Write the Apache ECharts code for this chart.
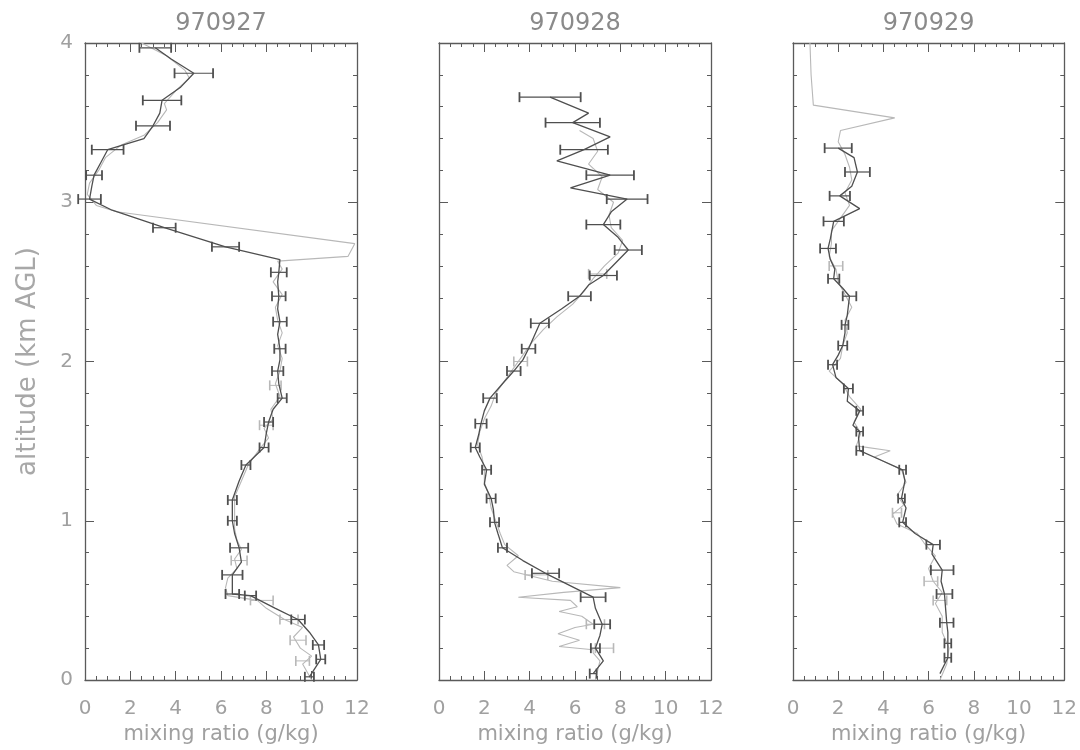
<!DOCTYPE html>
<html>
<head>
<meta charset="utf-8">
<script src="https://cdn.jsdelivr.net/npm/echarts@6/dist/echarts.min.js"></script>
<style>
html,body{margin:0;padding:0;background:#fff;}
#chart{width:1080px;height:750px;}
</style>
</head>
<body>
<div id="chart"></div>
<script>
// ---------- data ----------
const titles = ['970927', '970928', '970929'];
const xTicks = [0, 2, 4, 6, 8, 10, 12];
const yTicks = [0, 1, 2, 3, 4];

// Panel 1 (970927) - black profile with error bars
const alt1 = [0.02,0.13,0.22,0.30,0.38,0.45,0.53,0.54,0.66,0.74,0.83,0.92,1.00,1.13,1.25,1.35,1.46,1.55,1.62,1.70,1.77,1.86,1.94,2.01,2.08,2.17,2.25,2.33,2.41,2.50,2.56,2.64,2.72,2.84,2.95,3.02,3.10,3.17,3.25,3.33,3.40,3.48,3.56,3.64,3.72,3.81,3.90,3.97];
const val1 = [9.9,10.4,10.3,9.9,9.4,8.4,7.3,6.5,6.5,6.9,6.8,6.6,6.5,6.5,6.8,7.1,7.9,8.0,8.1,8.3,8.7,8.55,8.5,8.6,8.6,8.5,8.6,8.5,8.55,8.5,8.55,8.6,6.2,3.5,1.2,0.2,0.3,0.4,0.7,1.0,2.6,3.0,3.3,3.4,4.2,4.8,3.8,3.1];
const err1 = [0.2,0.2,0.25,0,0.3,0,0.25,0.3,0.45,0,0.4,0,0.2,0.2,0,0.2,0.2,0,0.2,0,0.2,0,0.25,0,0.25,0,0.3,0,0.3,0,0.35,0,0.6,0.5,0,0.5,0,0.35,0,0.7,0,0.75,0,0.85,0,0.85,0,0.7];
// Panel 1 grey profile
const galt1 = [0.00,0.05,0.10,0.15,0.20,0.27,0.33,0.38,0.45,0.50,0.53,0.58,0.64,0.70,0.76,0.82,0.88,0.95,1.05,1.15,1.25,1.35,1.45,1.52,1.58,1.64,1.70,1.78,1.86,1.94,2.02,2.10,2.18,2.26,2.34,2.42,2.50,2.58,2.63,2.66,2.74,2.94,2.98,3.05,3.12,3.20,3.28,3.36,3.42,3.50,3.58,3.62,3.70,3.78,3.83,3.92,4.00];
const gval1 = [10.0,9.8,9.6,10.0,9.5,9.2,9.6,8.8,8.0,7.6,6.3,6.2,6.3,6.7,6.6,6.9,6.7,6.6,6.6,6.6,6.9,7.2,7.7,8.1,7.9,8.3,8.2,8.6,8.4,8.6,8.7,8.5,8.7,8.5,8.4,8.7,8.3,8.7,8.5,11.6,11.9,1.4,0.5,0.1,0.2,0.6,0.9,1.6,2.6,3.2,3.6,3.5,4.0,4.6,4.4,3.6,2.5];
const gbAlt1 = [0.12,0.25,0.38,0.50,0.75,1.60,1.85];
const gbVal1 = [9.6,9.4,9.0,7.8,6.8,8.0,8.4];
const gbErr1 = [0.3,0.35,0.4,0.5,0.35,0.3,0.25];

// Panel 2 (970928)
const alt2 = [0.04,0.12,0.20,0.28,0.35,0.45,0.52,0.67,0.75,0.83,0.92,0.99,1.07,1.14,1.23,1.32,1.40,1.46,1.54,1.61,1.69,1.77,1.86,1.94,2.01,2.08,2.16,2.24,2.33,2.41,2.48,2.54,2.62,2.70,2.78,2.86,2.94,3.02,3.09,3.17,3.26,3.33,3.41,3.50,3.56,3.66];
const val2 = [6.8,7.25,6.9,7.1,7.2,6.9,6.8,4.7,3.7,2.8,2.6,2.45,2.4,2.3,2.0,2.1,1.8,1.6,1.75,1.85,2.0,2.25,2.8,3.3,3.7,3.95,4.2,4.45,5.4,6.2,6.6,7.25,7.8,8.35,7.9,7.25,7.6,8.3,5.8,7.55,5.2,6.4,7.55,5.9,6.6,4.9];
const err2 = [0.15,0,0.2,0,0.35,0,0.55,0.6,0,0.2,0,0.2,0,0.2,0,0.2,0,0.2,0,0.25,0,0.3,0,0.3,0,0.3,0,0.4,0,0.5,0,0.6,0,0.6,0,0.75,0,0.9,0,1.05,0,1.05,0,1.2,0,1.35];
const galt2 = [0.00,0.06,0.12,0.17,0.19,0.21,0.25,0.29,0.33,0.35,0.40,0.43,0.46,0.50,0.52,0.55,0.58,0.62,0.68,0.72,0.78,0.85,0.92,1.00,1.08,1.16,1.24,1.32,1.40,1.48,1.56,1.64,1.72,1.80,1.88,1.96,2.04,2.12,2.20,2.28,2.36,2.44,2.52,2.60,2.68,2.76,2.84,2.92,3.00,3.08,3.16,3.24,3.32,3.40,3.45];
const gval2 = [6.9,7.0,7.1,6.8,6.8,5.3,6.2,5.25,6.0,6.8,6.3,5.3,6.1,5.8,3.5,5.5,8.0,5.0,3.3,3.0,3.5,2.9,2.7,2.5,2.3,2.2,2.0,2.0,1.9,1.7,1.8,2.0,2.3,2.5,2.9,3.3,3.7,4.1,4.6,5.2,5.9,6.4,6.8,7.3,7.9,8.1,7.6,7.5,7.7,7.0,7.2,6.6,7.0,6.8,6.2];
const gbAlt2 = [0.20,0.35,0.66,2.00,2.55];
const gbVal2 = [7.3,6.9,4.3,3.6,7.0];
const gbErr2 = [0.4,0.4,0.5,0.3,0.4];

// Panel 3 (970929)
const alt3 = [0.04,0.14,0.23,0.30,0.36,0.45,0.54,0.62,0.69,0.79,0.85,0.92,0.99,1.08,1.14,1.25,1.32,1.38,1.44,1.52,1.56,1.60,1.69,1.75,1.83,1.90,1.98,2.04,2.10,2.18,2.23,2.29,2.41,2.46,2.52,2.58,2.64,2.71,2.77,2.88,2.96,3.04,3.10,3.19,3.28,3.34];
const val3 = [6.5,6.85,6.85,6.85,6.8,6.75,6.7,6.55,6.6,6.15,6.2,5.4,4.85,5.0,4.8,4.95,4.85,3.9,2.95,2.9,2.95,2.65,2.95,2.4,2.45,1.9,1.75,2.0,2.2,2.3,2.3,2.4,2.5,2.2,1.8,1.85,1.65,1.55,1.65,1.8,2.95,2.07,2.6,2.85,2.7,2.0];
const err3 = [0,0.15,0.15,0,0.3,0,0.35,0,0.5,0,0.3,0,0.15,0,0.15,0,0.15,0,0.15,0,0.15,0,0.15,0,0.2,0,0.2,0,0.2,0,0.15,0,0.3,0,0.25,0,0,0.35,0,0.45,0,0.45,0,0.55,0,0.6];
const galt3 = [0.00,0.10,0.20,0.30,0.40,0.48,0.55,0.62,0.70,0.78,0.86,0.92,0.98,1.04,1.10,1.16,1.24,1.32,1.40,1.44,1.47,1.55,1.62,1.70,1.78,1.86,1.94,2.02,2.10,2.18,2.26,2.34,2.42,2.50,2.58,2.66,2.74,2.82,2.90,2.98,3.06,3.14,3.22,3.30,3.38,3.45,3.53,3.61,3.80,4.00];
const gval3 = [6.5,6.8,6.9,6.6,6.6,6.3,6.6,6.2,6.0,6.3,5.8,5.5,4.6,4.4,4.9,4.6,5.0,4.8,3.6,4.3,2.8,3.0,2.7,3.0,2.5,2.2,1.6,2.1,2.2,2.4,2.3,2.6,2.3,2.0,1.9,1.6,1.7,1.7,2.1,2.5,2.3,2.6,2.5,2.3,2.0,2.1,4.5,0.9,0.8,0.75];
const gbAlt3 = [0.50,0.62,1.05,2.60];
const gbVal3 = [6.5,6.1,4.6,1.9];
const gbErr3 = [0.3,0.3,0.2,0.3];

// ---------- build ----------
const panels = [
  {alt: alt1, val: val1, err: err1, galt: galt1, gval: gval1, gbAlt: gbAlt1, gbVal: gbVal1, gbErr: gbErr1},
  {alt: alt2, val: val2, err: err2, galt: galt2, gval: gval2, gbAlt: gbAlt2, gbVal: gbVal2, gbErr: gbErr2},
  {alt: alt3, val: val3, err: err3, galt: galt3, gval: gval3, gbAlt: gbAlt3, gbVal: gbVal3, gbErr: gbErr3}
];
const lefts = [85, 439, 793];
const FONT = 'DejaVu Sans';
const axisColor = '#5a5a5a';
const textColor = '#a0a0a0';

const grid = [], xAxis = [], yAxis = [], series = [];

function errRender(color, width) {
  return function (params, api) {
    const e = api.value(2);
    if (!(e > 0)) return null;
    const v = api.value(0), a = api.value(1);
    const p1 = api.coord([v - e, a]);
    const p2 = api.coord([v + e, a]);
    const h = 5;
    const st = {stroke: color, lineWidth: width};
    return {
      type: 'group',
      children: [
        {type: 'line', shape: {x1: p1[0], y1: p1[1], x2: p2[0], y2: p2[1]}, style: st},
        {type: 'line', shape: {x1: p1[0], y1: p1[1] - h, x2: p1[0], y2: p1[1] + h}, style: {stroke: color, lineWidth: width + 0.6}},
        {type: 'line', shape: {x1: p2[0], y1: p2[1] - h, x2: p2[0], y2: p2[1] + h}, style: {stroke: color, lineWidth: width + 0.6}}
      ]
    };
  };
}

panels.forEach((p, i) => {
  grid.push({left: lefts[i], top: 43, width: 272, height: 640});
  const baseX = {
    gridIndex: i, type: 'value', min: xTicks[0], max: xTicks[xTicks.length - 1], interval: 2,
    axisLine: {show: true, onZero: false, lineStyle: {color: axisColor, width: 1.3}},
    axisTick: {show: true, inside: true, length: 9, lineStyle: {color: axisColor}},
    minorTick: {show: true, splitNumber: 4, length: 4, lineStyle: {color: axisColor}},
    splitLine: {show: false}
  };
  xAxis.push(Object.assign({}, baseX, {
    position: 'bottom',
    axisLabel: {show: true, color: textColor, fontSize: 20, fontFamily: FONT, margin: 19},
    name: 'mixing ratio (g/kg)', nameLocation: 'middle', nameGap: 44,
    nameTextStyle: {color: textColor, fontSize: 21, fontFamily: FONT}
  }));
  xAxis.push(Object.assign({}, baseX, {
    position: 'top',
    axisLabel: {show: false},
    name: titles[i], nameLocation: 'middle', nameGap: 7,
    nameTextStyle: {color: '#8a8a8a', fontSize: 24, fontFamily: FONT, verticalAlign: 'bottom'}
  }));
  const baseY = {
    gridIndex: i, type: 'value', min: yTicks[0], max: yTicks[yTicks.length - 1], interval: 1,
    axisLine: {show: true, onZero: false, lineStyle: {color: axisColor, width: 1.3}},
    axisTick: {show: true, inside: true, length: 9, lineStyle: {color: axisColor}},
    minorTick: {show: true, splitNumber: 5, length: 4, lineStyle: {color: axisColor}},
    splitLine: {show: false}
  };
  yAxis.push(Object.assign({}, baseY, {
    position: 'left',
    axisLabel: {show: i === 0, color: textColor, fontSize: 20, fontFamily: FONT, margin: 12},
    name: i === 0 ? 'altitude (km AGL)' : '', nameLocation: 'middle', nameGap: 44,
    nameTextStyle: {color: '#a8a8a8', fontSize: 26, fontFamily: FONT}
  }));
  yAxis.push(Object.assign({}, baseY, {position: 'right', axisLabel: {show: false}}));

  const xi = 2 * i, yi = 2 * i;
  series.push({
    type: 'line', xAxisIndex: xi, yAxisIndex: yi, symbol: 'none', silent: true,
    data: p.galt.map((a, k) => [p.gval[k], a]),
    lineStyle: {color: '#b8b8b8', width: 1.1}, z: 2
  });
  series.push({
    type: 'custom', xAxisIndex: xi, yAxisIndex: yi, silent: true,
    encode: {x: 0, y: 1},
    data: p.gbAlt.map((a, k) => [p.gbVal[k], a, p.gbErr[k]]),
    renderItem: errRender('#b8b8b8', 1), z: 2
  });
  series.push({
    type: 'line', xAxisIndex: xi, yAxisIndex: yi, symbol: 'none', silent: true,
    data: p.alt.map((a, k) => [p.val[k], a]),
    lineStyle: {color: '#4f4f4f', width: 1.3}, z: 3
  });
  series.push({
    type: 'custom', xAxisIndex: xi, yAxisIndex: yi, silent: true,
    encode: {x: 0, y: 1},
    data: p.alt.map((a, k) => [p.val[k], a, p.err[k]]),
    renderItem: errRender('#4f4f4f', 1.2), z: 3
  });
});

const chart = echarts.init(document.getElementById('chart'), null, {renderer: 'canvas'});
chart.setOption({
  animation: false,
  backgroundColor: '#ffffff',
  grid: grid,
  xAxis: xAxis,
  yAxis: yAxis,
  series: series
});
</script>
</body>
</html>
